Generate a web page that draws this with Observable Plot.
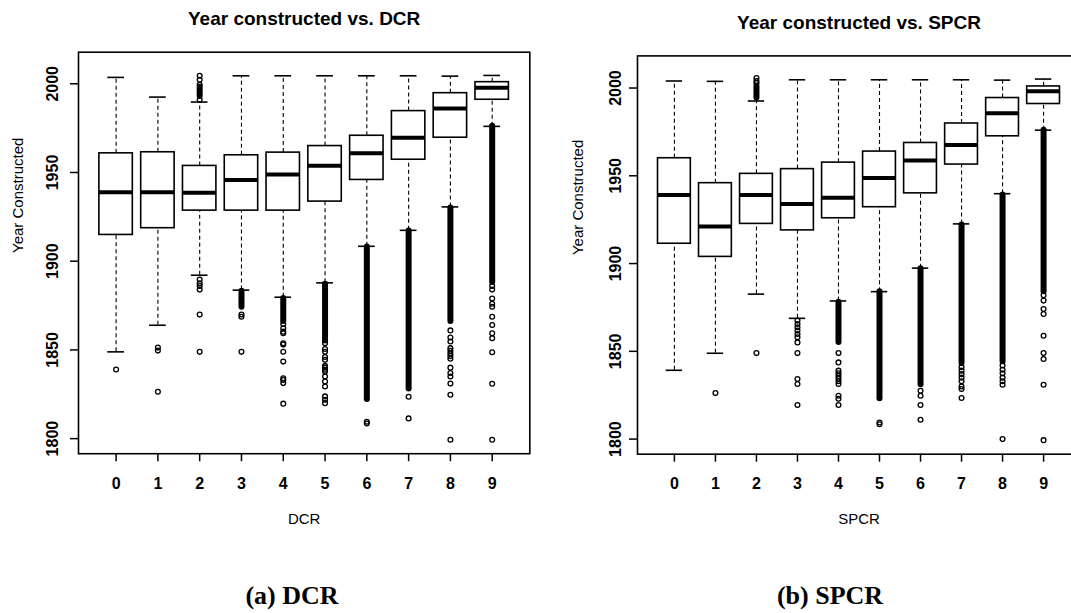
<!DOCTYPE html>
<html>
<head>
<meta charset="utf-8">
<script src="https://cdn.jsdelivr.net/npm/d3@7"></script>
<script src="https://cdn.jsdelivr.net/npm/@observablehq/plot@0.6"></script>
<style>
  html, body { margin: 0; padding: 0; background: #fff; overflow: hidden; }
  #page { position: relative; width: 1071px; height: 613px; overflow: hidden; background: #fff; }
  .panel { position: absolute; top: 0; }
  .panel svg { max-width: none !important; display: block; }
  .caption { position: absolute; width: 240px; text-align: center; font: bold 26px "Liberation Serif", "Times New Roman", serif; line-height: 1; color: #000; white-space: nowrap; }
</style>
</head>
<body>
<div id="page">
  <div id="left" class="panel" style="left:0px; width:540px;"></div>
  <div id="right" class="panel" style="left:530px; width:560px;"></div>
  <div class="caption" style="left:172px; top:583px;">(a) DCR</div>
  <div class="caption" style="left:710px; top:583px;">(b) SPCR</div>
</div>
<script>
// ---- shared ----
const categories = [0, 1, 2, 3, 4, 5, 6, 7, 8, 9];
const yTicks = [1800, 1850, 1900, 1950, 2000];

// ---- DCR panel ----
const dcrTitle = "Year constructed vs. DCR";
const dcrLabel = "DCR";
const dcrWhiskerLow  = [1848.9, 1863.9, 1892.1, 1883.7, 1879.7, 1887.8, 1908.4, 1917.4, 1930.6, 1976.0];
const dcrQ1          = [1914.8, 1918.6, 1928.5, 1928.5, 1928.5, 1933.6, 1945.8, 1957.2, 1969.6, 1991.0];
const dcrMedian      = [1938.8, 1938.8, 1938.6, 1945.8, 1948.8, 1953.8, 1960.8, 1969.6, 1986.1, 1997.7];
const dcrQ3          = [1960.8, 1961.4, 1953.7, 1959.7, 1961.2, 1964.9, 1970.7, 1984.6, 1994.7, 2000.9];
const dcrWhiskerHigh = [2003.6, 1992.5, 1989.7, 2004.5, 2004.5, 2004.5, 2004.5, 2004.5, 2004.3, 2004.7];
const dcrOutliers = [
  [1839],
  [1851.3, 1849.6, 1826.4],
  [2004.5, 2002.3, 1999.4, 1991, 1889.7, 1887.5, 1886, 1884, 1869.9, 1848.9],
  [1870, 1868.7, 1848.9],
  [1864.6, 1862.2, 1860.3, 1859.4, 1853.7, 1853, 1849, 1843.4, 1834, 1833, 1831.3, 1819.7],
  [1853.7, 1850.5, 1849, 1846, 1844.4, 1841, 1840, 1838.8, 1837.8, 1835, 1832.2, 1829.4, 1823.8, 1821.9, 1820],
  [1809.5, 1808.5],
  [1823.6, 1811.4],
  [1861, 1857, 1854.7, 1851, 1849.5, 1848, 1846.5, 1845, 1840, 1837, 1835, 1831, 1824.7, 1799.4],
  [1886, 1884, 1879, 1876, 1874.3, 1868.7, 1864, 1859.4, 1856.6, 1848.7, 1830.9, 1799.4]
];
// runs of outliers so dense that they merge into a solid column: [low, high]
const dcrDenseRuns = [
  null, null, [1992.9, 1998], [1874, 1883], [1866, 1879], [1855, 1887],
  [1822, 1908], [1828, 1917], [1866, 1930], [1888, 1976]
];

// ---- SPCR panel ----
const spcrTitle = "Year constructed vs. SPCR";
const spcrLabel = "SPCR";
const spcrWhiskerLow  = [1839.2, 1848.9, 1882.6, 1868.8, 1878.7, 1884.0, 1897.4, 1922.6, 1939.8, 1976.0];
const spcrQ1          = [1911.3, 1903.8, 1922.6, 1918.9, 1925.8, 1932.1, 1940.0, 1956.4, 1972.5, 1990.9];
const spcrMedian      = [1939.1, 1921.1, 1939.1, 1934.0, 1937.5, 1948.7, 1958.7, 1967.5, 1985.7, 1998.1];
const spcrQ3          = [1960.0, 1945.8, 1951.1, 1953.8, 1957.5, 1963.8, 1968.7, 1979.8, 1994.3, 2000.9];
const spcrWhiskerHigh = [2004.0, 2003.8, 1992.6, 2004.7, 2004.7, 2004.7, 2004.7, 2004.7, 2004.5, 2005.1];
const spcrOutliers = [
  [],
  [1826.2],
  [2005.7, 2004, 2002.8, 1849],
  [1867.5, 1865.6, 1863.7, 1861.8, 1859.9, 1858, 1855.1, 1849, 1834.2, 1831.4, 1819.4],
  [1849, 1843.7, 1839, 1837.5, 1836, 1834.5, 1833, 1831.4, 1824.7, 1823, 1819.4],
  [1809.5, 1808.5],
  [1827.5, 1824.7, 1819.4, 1811],
  [1841, 1839, 1837, 1835, 1833, 1830, 1828.5, 1823.4],
  [1842, 1839.5, 1837.5, 1835, 1833, 1831, 1800],
  [1882, 1878.9, 1874.1, 1871.3, 1858.9, 1849, 1845.6, 1831, 1799.4]
];
const spcrDenseRuns = [
  null, null, [1994.3, 2001], null, [1855, 1878], [1823, 1884],
  [1831, 1897], [1843, 1922], [1844, 1939], [1884, 1976]
];

function panel(cfg) {
  const boxes = categories.map((c, i) => ({
    cat: c, lo: cfg.lo[i], q1: cfg.q1[i], med: cfg.med[i], q3: cfg.q3[i], hi: cfg.hi[i]
  }));
  const dots = cfg.out.flatMap((arr, i) => arr.map(v => ({cat: categories[i], v})));
  const runs = cfg.runs
    .map((r, i) => r ? {cat: categories[i], lo: r[0], hi: r[1]} : null)
    .filter(Boolean);
  const dash = "4,3";
  return Plot.plot({
    width: cfg.width,
    height: 545,
    marginLeft: cfg.ml,
    marginRight: cfg.mr,
    marginTop: cfg.mt,
    marginBottom: cfg.mb,
    style: {fontFamily: '"Liberation Sans", Arial, sans-serif', fontSize: "15px", color: "#000", background: "transparent", overflow: "visible"},
    x: {domain: [-0.9, 9.9]},
    y: {domain: cfg.ydomain},
    marks: [
      Plot.ruleX(boxes, {x: "cat", y1: "q3", y2: "hi", stroke: "#000", strokeWidth: 1.1, strokeDasharray: dash}),
      Plot.ruleX(boxes, {x: "cat", y1: "lo", y2: "q1", stroke: "#000", strokeWidth: 1.1, strokeDasharray: dash}),
      Plot.ruleY(boxes, {y: "hi", x1: d => d.cat - 0.2, x2: d => d.cat + 0.2, stroke: "#000", strokeWidth: 1.6}),
      Plot.ruleY(boxes, {y: "lo", x1: d => d.cat - 0.2, x2: d => d.cat + 0.2, stroke: "#000", strokeWidth: 1.6}),
      Plot.rect(boxes, {x1: d => d.cat - 0.4, x2: d => d.cat + 0.4, y1: "q1", y2: "q3", fill: "#fff", stroke: "#000", strokeWidth: 1.6}),
      Plot.ruleY(boxes, {y: "med", x1: d => d.cat - 0.4, x2: d => d.cat + 0.4, stroke: "#000", strokeWidth: 4}),
      Plot.ruleX(runs, {x: "cat", y1: "lo", y2: "hi", stroke: "#000", strokeWidth: 6, strokeLinecap: "round"}),
      Plot.dot(dots, {x: "cat", y: "v", r: 2.4, stroke: "#000", strokeWidth: 1.3, fill: "none"}),
      Plot.frame({stroke: "#000", strokeWidth: 1.6}),
      Plot.axisX({ticks: categories, tickSize: 8, tickPadding: cfg.xpad, tickFormat: d3.format("d"), fontSize: 16, fontWeight: "bold", label: null, strokeWidth: 1.5}),
      Plot.axisY({ticks: yTicks, tickSize: 8, tickRotate: -90, tickPadding: cfg.ypad, tickFormat: d3.format("d"), fontSize: 16, fontWeight: "bold", label: null, strokeWidth: 1.5}),
      Plot.text([cfg.xlabel], {frameAnchor: "bottom", lineAnchor: "middle", dy: 65, text: d => d, fontSize: 15}),
      Plot.text([cfg.ylabel], {frameAnchor: "left", lineAnchor: "middle", dx: cfg.ylx, rotate: -90, text: d => d, fontSize: 15}),
      Plot.text([cfg.title], {frameAnchor: "top", lineAnchor: "middle", dy: -33, text: d => d, fontSize: 19, fontWeight: "bold"})
    ]
  });
}

document.getElementById("left").append(panel({
  width: 540, ml: 78, mr: 10.7, mt: 51.7, mb: 545 - 453.2,
  ydomain: [1791.5, 2017.8], xpad: 16, ypad: 13, ylx: -60.4,
  lo: dcrWhiskerLow, q1: dcrQ1, med: dcrMedian, q3: dcrQ3, hi: dcrWhiskerHigh,
  out: dcrOutliers, runs: dcrDenseRuns,
  xlabel: dcrLabel, ylabel: "Year Constructed", title: dcrTitle
}));
document.getElementById("right").append(panel({
  width: 560, ml: 107, mr: 10, mt: 55.4, mb: 545 - 453.7,
  ydomain: [1791.4, 2018.3], xpad: 15.5, ypad: 9, ylx: -59,
  lo: spcrWhiskerLow, q1: spcrQ1, med: spcrMedian, q3: spcrQ3, hi: spcrWhiskerHigh,
  out: spcrOutliers, runs: spcrDenseRuns,
  xlabel: spcrLabel, ylabel: "Year Constructed", title: spcrTitle
}));
</script>
</body>
</html>
